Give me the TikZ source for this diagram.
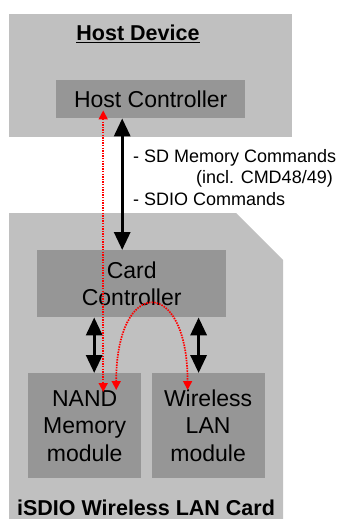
\documentclass[tikz,border=0pt]{standalone}
\usepackage{fontspec}
\setmainfont{Liberation Sans}
\usetikzlibrary{arrows.meta,positioning}
\definecolor{cardgrey}{RGB}{192,192,192}
\definecolor{blockgrey}{RGB}{150,150,150}
\tikzset{ >={Triangle[width=16pt,length=18pt]}, block/.style={ rectangle, fill=blockgrey, inner sep=0pt, align=center, font=\fontsize{23}{27.5}\selectfont}, bus/.style={ <->, line width=3.2pt}, trace/.style={ {Triangle[width=9pt,length=9pt]}-{Triangle[width=9pt,length=9pt]}, red, dash pattern=on 1.5pt off 1.1pt, line width=1.7pt}, title/.style={ inner sep=0pt, font=\fontsize{21.5}{25}\selectfont\bfseries}, cmdtext/.style={ inner sep=0pt, font=\fontsize{18}{21.5}\selectfont}}

\begin{document}
\begin{tikzpicture}[x=1pt, y=-1pt, node distance=10pt]
    \useasboundingbox (0,0) rectangle (339,519);
    %areas
    \node[rectangle, fill=cardgrey, inner sep=0pt, anchor=north west,
      minimum width=283pt, minimum height=123pt] (host) at (9,14) {};
    \fill[cardgrey] (9,213) -- (236,213) -- (283,260) -- (283,519) -- (9,519) -- cycle;
    \node[title] (hosttitle) at (138,34) {\underline{Host Device}};
    \node[title] (cardtitle) at (146,508) {iSDIO Wireless LAN Card};
    %blocks
    \node[block, anchor=north west, minimum width=189pt, minimum height=38pt]
      (hostctrl) at (56,80) {Host Controller};
    \node[block, anchor=north west, minimum width=189pt, minimum height=67pt]
      (cardctrl) at (37,250) {Card\\Controller};
    \node[block, anchor=north west, minimum width=113pt, minimum height=105pt]
      (nand) at (28,373) {NAND\\Memory\\module};
    \node[block, right=of nand, minimum width=113pt, minimum height=105pt]
      (wlan) {Wireless\\LAN\\module};
    %commands
    \node[cmdtext, anchor=base west] (cmdsd) at (133,162) {- SD Memory Commands};
    \node[cmdtext, anchor=base east] (cmdincl) at (333,183.5) {(incl. CMD48/49)};
    \node[cmdtext, anchor=base west] (cmdsdio) at (133,205) {- SDIO Commands};
    %connections
    \draw[bus] ([xshift=-9.5pt]cardctrl.north |- hostctrl.south) -- ([xshift=-9.5pt]cardctrl.north);
    \draw[bus] ([xshift=9.5pt]nand.north |- cardctrl.south) -- ([xshift=9.5pt]nand.north);
    \draw[bus] ([xshift=-9.5pt]wlan.north |- cardctrl.south) -- ([xshift=-9.5pt]wlan.north);
    % data paths
    \draw[trace] ([xshift=18.5pt,yshift=8pt]nand.north |- hostctrl.south) -- ([xshift=18.5pt,yshift=-19pt]nand.north);
    \draw[trace] ([xshift=31.5pt,yshift=-17pt]nand.north)
      .. controls +(0,-114) and +(0,-114) .. ([xshift=-20.5pt,yshift=-17pt]wlan.north);
\end{tikzpicture}
\end{document}
